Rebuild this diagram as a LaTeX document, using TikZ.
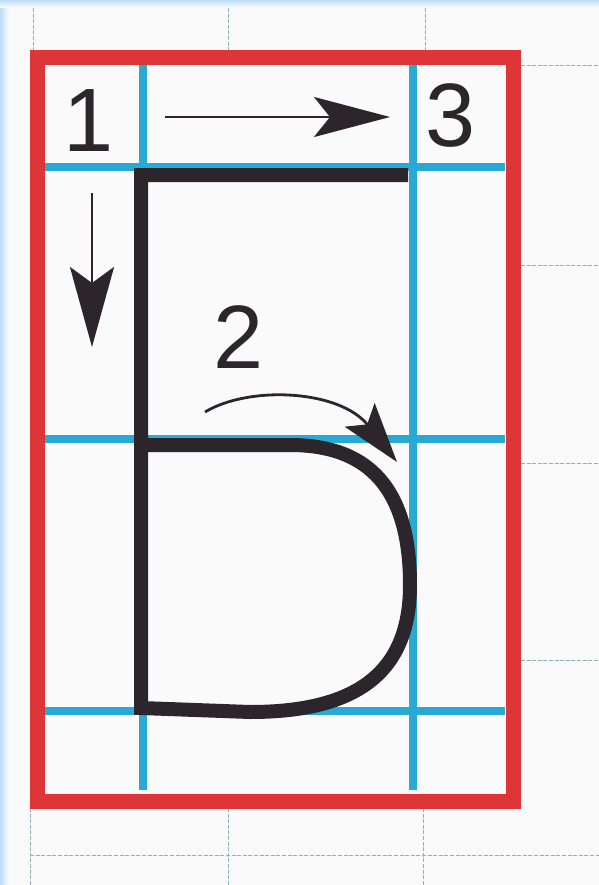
\documentclass[tikz,border=0pt]{standalone}
\usepackage{fontspec}
\setmainfont{Liberation Sans}
\usepackage{xcolor}
\usetikzlibrary{arrows.meta}

\definecolor{frameRed}{RGB}{222,54,56}
\definecolor{guideBlue}{RGB}{40,170,212}
\definecolor{inkDark}{RGB}{44,38,44}
\definecolor{paperLine}{RGB}{140,178,188}
\definecolor{edgeBlue}{RGB}{188,220,248}
\definecolor{paperWhite}{RGB}{250,250,250}

\begin{document}
\begin{tikzpicture}[
  x=0.5pt, y=-0.5pt,
  redFrame/.style={draw=frameRed, line width=7.5pt},
  guide/.style={draw=guideBlue, line width=4pt},
  paperRule/.style={draw=paperLine, line width=0.5pt, dash pattern=on 2pt off 0.8pt},
  letterStroke/.style={draw=inkDark, line width=7pt, miter limit=10},
  hintArrow/.style={draw=inkDark, line width=1.4pt},
  digit/.style={text=inkDark, inner sep=0pt, font=\fontsize{45}{50}\selectfont}
]
\useasboundingbox (0,0) rectangle (599,885);
\fill[paperWhite] (0,0) rectangle (599,885);
\shade[left color=edgeBlue, right color=paperWhite] (0,0) rectangle (9,885);
\shade[top color=edgeBlue, bottom color=paperWhite] (0,0) rectangle (599,7);

% rules of the exercise book
\draw[paperRule] (33,8) -- (33,50);
\draw[paperRule] (228,8) -- (228,50);
\draw[paperRule] (425,8) -- (425,50);
\draw[paperRule] (30,808) -- (30,885);
\draw[paperRule] (228,808) -- (228,885);
\draw[paperRule] (423,808) -- (423,885);
\draw[paperRule] (521,65) -- (599,65);
\draw[paperRule] (521,265) -- (599,265);
\draw[paperRule] (521,463) -- (599,463);
\draw[paperRule] (521,660) -- (599,660);
\draw[paperRule] (30,855) -- (599,855);

% guide lines
\draw[guide] (143,65) -- (143,790);
\draw[guide] (413,65) -- (413,790);
\draw[guide] (45,167) -- (505,167);
\draw[guide] (45,439) -- (505,439);
\draw[guide] (45,711) -- (505,711);

\draw[redFrame] (37,57) rectangle (513,801);

% the letter
\draw[letterStroke] (408,175) -- (141,175) -- (141,708) -- (250,712)
  .. controls (360,712) and (410,670) .. (410,585)
  .. controls (410,490) and (370,445) .. (290,445) -- (141,445);

% stroke order
\node[digit] (one) at (89,121) {1};
\node[digit] (three) at (451,116) {3};
\node[digit] (two) at (239,337) {2};

\coordinate (topStart) at (165,117);
\coordinate (topEnd) at (390,117);
\coordinate (downStart) at (92,193);
\coordinate (downEnd) at (92,347);
\coordinate (bowlStart) at (205,412);
\coordinate (bowlEnd) at (397,462);

\draw[hintArrow, -{Stealth[length=38pt, width=20pt, inset=8pt]}] (topStart) -- (topEnd);
\draw[hintArrow, -{Stealth[length=40pt, width=22pt, inset=8pt]}] (downStart) -- (downEnd);
\draw[hintArrow, -{Stealth[length=30pt, width=19pt, inset=6pt]}] (bowlStart)
  .. controls (250,385) and (340,390) .. (bowlEnd);
\end{tikzpicture}
\end{document}
